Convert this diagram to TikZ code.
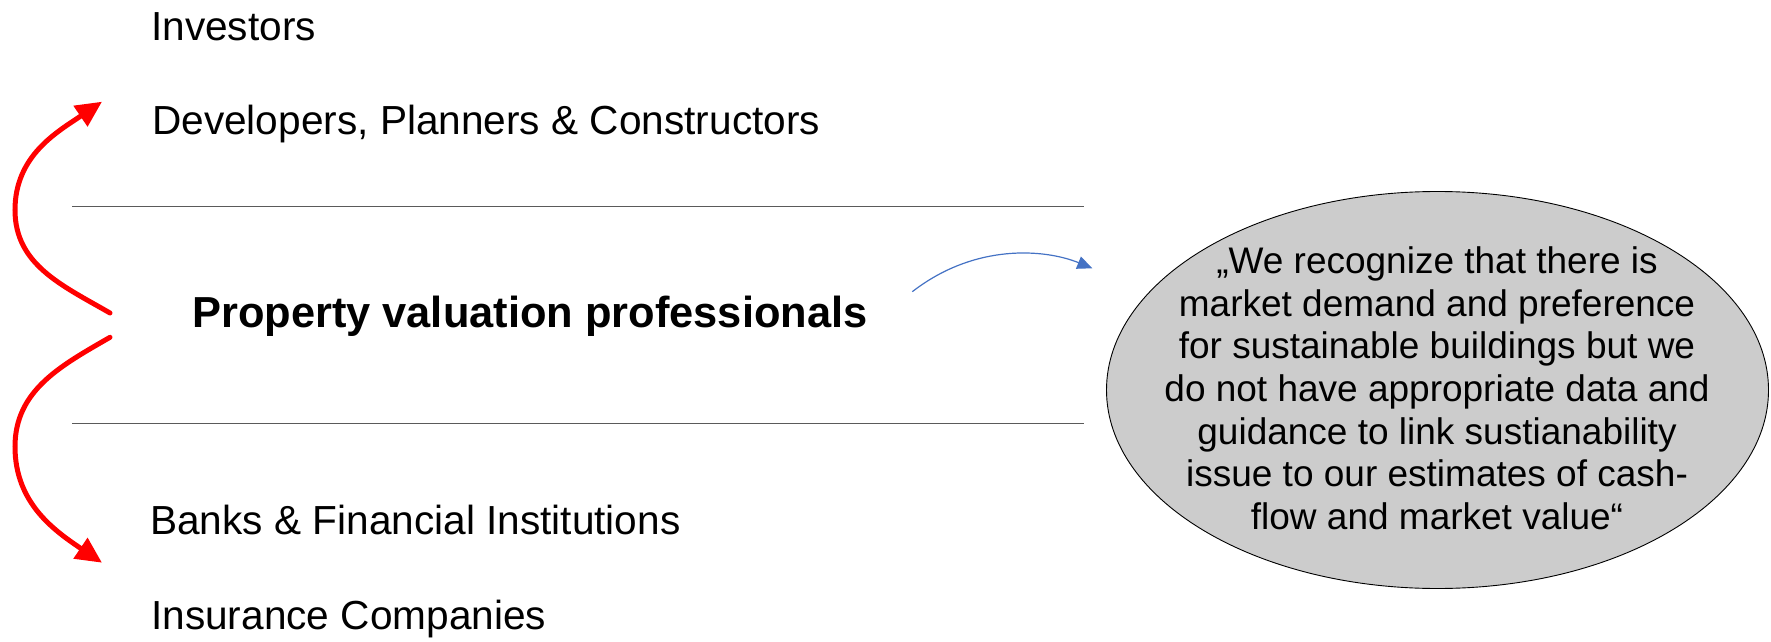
\documentclass[tikz,border=0pt]{standalone}
\usepackage{fontspec}
\setmainfont{Liberation Sans}
\usetikzlibrary{arrows.meta}
\definecolor{bubblefill}{RGB}{204,204,204}
\definecolor{arcblue}{RGB}{68,114,196}
\definecolor{rulegray}{RGB}{90,90,90}
\begin{document}
\begin{tikzpicture}[x=1pt,y=1pt,
  grouplabel/.style={anchor=base west,inner sep=0pt,font=\fontsize{40.6}{48}\selectfont},
  mainlabel/.style={anchor=base west,inner sep=0pt,font=\fontsize{43.4}{50}\selectfont\bfseries},
  separator/.style={draw=rulegray,line width=1.3pt},
  redarc/.style={draw=red,line width=5pt,line cap=round,-{Triangle[length=26pt,width=24pt]}},
  bluearc/.style={draw=arcblue,line width=1.2pt,-{Triangle[length=15pt,width=13pt]}},
  bubble/.style={draw=black,line width=0.9pt,fill=bubblefill},
  quote/.style={anchor=north,inner sep=0pt,align=center,font=\fontsize{37}{42.6}\selectfont}]
\useasboundingbox (0,0) rectangle (1771,641);

% stakeholder groups
\node[grouplabel] (investors) at (151,600.3) {Investors};
\node[grouplabel] (developers) at (152,506) {Developers, Planners \& Constructors};
\node[mainlabel] (valuers) at (192,313.3) {Property valuation professionals};
\node[grouplabel] (banks) at (150,106.7) {Banks \& Financial Institutions};
\node[grouplabel] (insurers) at (151,11.7) {Insurance Companies};

% horizontal separators around the valuers band
\coordinate (sepTopL) at (72.3,434.3);
\coordinate (sepTopR) at (1084.3,434.3);
\coordinate (sepBotL) at (72.3,217.4);
\coordinate (sepBotR) at (1084.3,217.4);
\draw[separator] (sepTopL) -- (sepTopR);
\draw[separator] (sepBotL) -- (sepBotR);

% red influence arrows
\coordinate (upStart) at (110,328);
\coordinate (upBend) at (15,431);
\coordinate (upEnd) at (102,539.3);
\coordinate (downStart) at (110,303.7);
\coordinate (downBend) at (15,194.3);
\coordinate (downEnd) at (102,78.3);
\draw[redarc] (upStart) to[out=150,in=-90] (upBend) to[out=90,in=-146] (upEnd);
\draw[redarc] (downStart) to[out=-150,in=90] (downBend) to[out=-90,in=146] (downEnd);

% speech bubble
\coordinate (bubble) at (1437.5,251);
\draw[bubble] (bubble) ellipse [x radius=331, y radius=198.5];
\node[quote] (quotetext) at (1437,394.3) {„We recognize that there is\\market demand and preference\\for sustainable buildings but we\\do not have appropriate data and\\guidance to link sustianability\\issue to our estimates of cash-\\flow and market value“};

% blue pointer towards the bubble
\coordinate (ptrStart) at (912.3,349.3);
\coordinate (ptrEnd) at (1092.3,372.7);
\draw[bluearc] (ptrStart) .. controls +(62.7,48.7) and +(-47.3,19.3) .. (ptrEnd);
\end{tikzpicture}
\end{document}
